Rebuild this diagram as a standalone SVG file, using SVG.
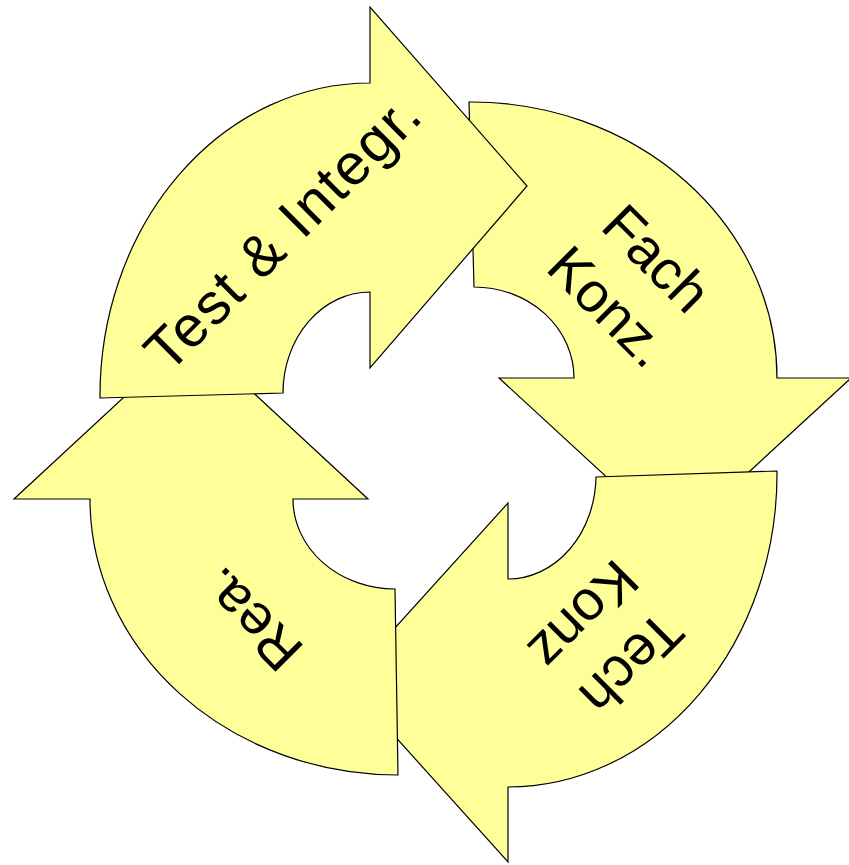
<svg xmlns="http://www.w3.org/2000/svg" width="849" height="865" viewBox="0 0 849 865">
  <style>
    .arrow { fill: #FFFF99; stroke: #000000; stroke-width: 1.2; stroke-linejoin: miter; }
    .label { font-family: "Liberation Sans", Arial, sans-serif; font-size: 56px; fill: #000000; text-anchor: middle; }
    .wide { font-size: 58px; letter-spacing: 1.8px; }
  </style>
  <rect x="0" y="0" width="849" height="865" fill="#FFFFFF"/>

  <!-- Stacking order: each arrow tip slides under the next arrow's tail -->
  <g id="fach-konz">
    <path class="arrow" d="M 469,102 A 306,276 0 0 1 777,378 L 851,378 L 675,540 L 499,378 L 574,378 A 100,91 0 0 0 474,287 Z"/>
    <g transform="translate(633,282) rotate(45)">
      <text class="label" x="0" y="-14">Fach</text>
      <text class="label" x="0" y="54">Konz.</text>
    </g>
  </g>

  <g id="tech-konz">
    <path class="arrow" d="M 777,471 A 269,313 0 0 1 508,787 L 508,862 L 346,682 L 508,503 L 508,579 A 88,104 0 0 0 596,477 Z"/>
    <g transform="translate(608,640) rotate(135)">
      <text class="label" x="0" y="-14">Tech</text>
      <text class="label" x="0" y="54">Konz</text>
    </g>
  </g>

  <g id="rea">
    <path class="arrow" d="M 398,775 A 308,276 0 0 1 90,499 L 14,499 L 191,335 L 368,499 L 293,499 A 102,90 0 0 0 395,589 Z"/>
    <g transform="translate(250,620) rotate(225)">
      <text class="label" x="0" y="20">Rea.</text>
    </g>
  </g>

  <g id="test-integr">
    <path class="arrow" d="M 100,398 A 270,313 0 0 1 370,83 L 370,7 L 527,186 L 370,368 L 370,292 A 87,101 0 0 0 283,393 Z"/>
    <g transform="translate(283,232) rotate(-45)">
      <text class="label wide" x="0" y="20">Test &amp; Integr.</text>
    </g>
  </g>

  <!-- The cycle arrows are self-contained shapes; no separate connectors -->
  <g id="connectors"/>
</svg>
